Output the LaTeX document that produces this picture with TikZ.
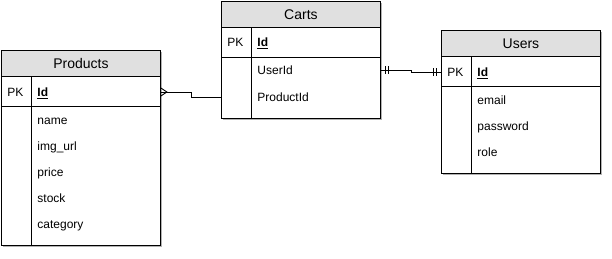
\documentclass[tikz,border=0pt]{standalone}
\usepackage{fontspec}
\setmainfont{Liberation Sans}
\usepackage{xcolor}
\usepackage{tikz}
\usetikzlibrary{calc,shadows}

\definecolor{titlegray}{HTML}{E0E0E0}

\tikzset{
	tablebox/.style={draw, fill=white, anchor=north west, inner sep=0pt,
		minimum width=159pt, line width=0.9pt,
		drop shadow={shadow xshift=2pt, shadow yshift=-2pt, opacity=0.3, fill=black}},
	titlebar/.style={draw, fill=titlegray, anchor=north west, inner sep=0pt,
		minimum width=159pt, minimum height=26pt, line width=0.9pt,
		font=\fontsize{14}{16}\selectfont},
	field/.style={anchor=west, inner sep=0pt, text height=9pt, text depth=0pt,
		font=\fontsize{12}{14}\selectfont},
	keyfield/.style={field, font=\fontsize{12}{14}\selectfont\bfseries},
}

\begin{document}
\begin{tikzpicture}[x=1pt, y=-1pt, line width=0.9pt]
	\useasboundingbox (0,0) rectangle (612,258);
	
	% =========================================================
	% TABLE 1: Products
	% =========================================================
	\begin{scope}[shift={(1,50)}]
		% Frame and title
		\node[tablebox, minimum height=195pt] (products) at (0,0) {};
		\node[titlebar] (productsTitle) at (0,0) {Products};
		
		% Key row and column rule
		\draw (0,56) -- (159,56);
		\draw (30,26) -- (30,195);
		\node[field] (productsPK) at (6,42) {PK};
		\node[keyfield] (productsId) at (36,42) {\underline{Id}};
		
		% Fields
		\node[field] (productsName) at (36,70) {name};
		\node[field] (productsImg) at (36,96) {img\_url};
		\node[field] (productsPrice) at (36,122) {price};
		\node[field] (productsStock) at (36,148) {stock};
		\node[field] (productsCategory) at (36,174) {category};
	\end{scope}
	
	% =========================================================
	% TABLE 2: Carts
	% =========================================================
	\begin{scope}[shift={(221,1)}]
		% Frame and title
		\node[tablebox, minimum height=117pt] (carts) at (0,0) {};
		\node[titlebar] (cartsTitle) at (0,0) {Carts};
		
		% Key row and column rule
		\draw (0,56) -- (159,56);
		\draw (30,26) -- (30,117);
		\node[field] (cartsPK) at (6,41) {PK};
		\node[keyfield] (cartsId) at (36,41) {\underline{Id}};
		
		% Fields
		\node[field] (cartsUserId) at (36,69) {UserId};
		\node[field] (cartsProductId) at (36,96) {ProductId};
	\end{scope}
	
	% =========================================================
	% TABLE 3: Users
	% =========================================================
	\begin{scope}[shift={(441,30)}]
		% Frame and title
		\node[tablebox, minimum height=143pt] (users) at (0,0) {};
		\node[titlebar] (usersTitle) at (0,0) {Users};
		
		% Key row and column rule
		\draw (0,56) -- (159,56);
		\draw (30,26) -- (30,143);
		\node[field] (usersPK) at (6,42) {PK};
		\node[keyfield] (usersId) at (36,42) {\underline{Id}};
		
		% Fields
		\node[field] (usersEmail) at (36,70) {email};
		\node[field] (usersPassword) at (36,96) {password};
		\node[field] (usersRole) at (36,122) {role};
	\end{scope}
	
	% =========================================================
	% Relations
	% =========================================================
	% Products (many) -- Carts
	\coordinate (prodEnd) at (products.east |- productsId);
	\coordinate (cartProdEnd) at (carts.west |- cartsProductId);
	\draw (prodEnd) -| ($(prodEnd)!0.5!(cartProdEnd)$) |- (cartProdEnd);
	% crow's foot
	\draw ($(prodEnd)+(0,-4)$) -- ($(prodEnd)+(6,0)$) -- ($(prodEnd)+(0,4)$);
	
	% Carts (one) -- Users (one)
	\coordinate (cartUserEnd) at (carts.east |- cartsUserId);
	\coordinate (userEnd) at (users.west |- usersId);
	\draw (cartUserEnd) -| ($(cartUserEnd)!0.5!(userEnd)$) |- (userEnd);
	% double bars on both ends
	\draw ($(cartUserEnd)+(5,-4)$) -- ++(0,8);
	\draw ($(cartUserEnd)+(8,-4)$) -- ++(0,8);
	\draw ($(userEnd)+(-5,-4)$) -- ++(0,8);
	\draw ($(userEnd)+(-8,-4)$) -- ++(0,8);
	
\end{tikzpicture}
\end{document}
